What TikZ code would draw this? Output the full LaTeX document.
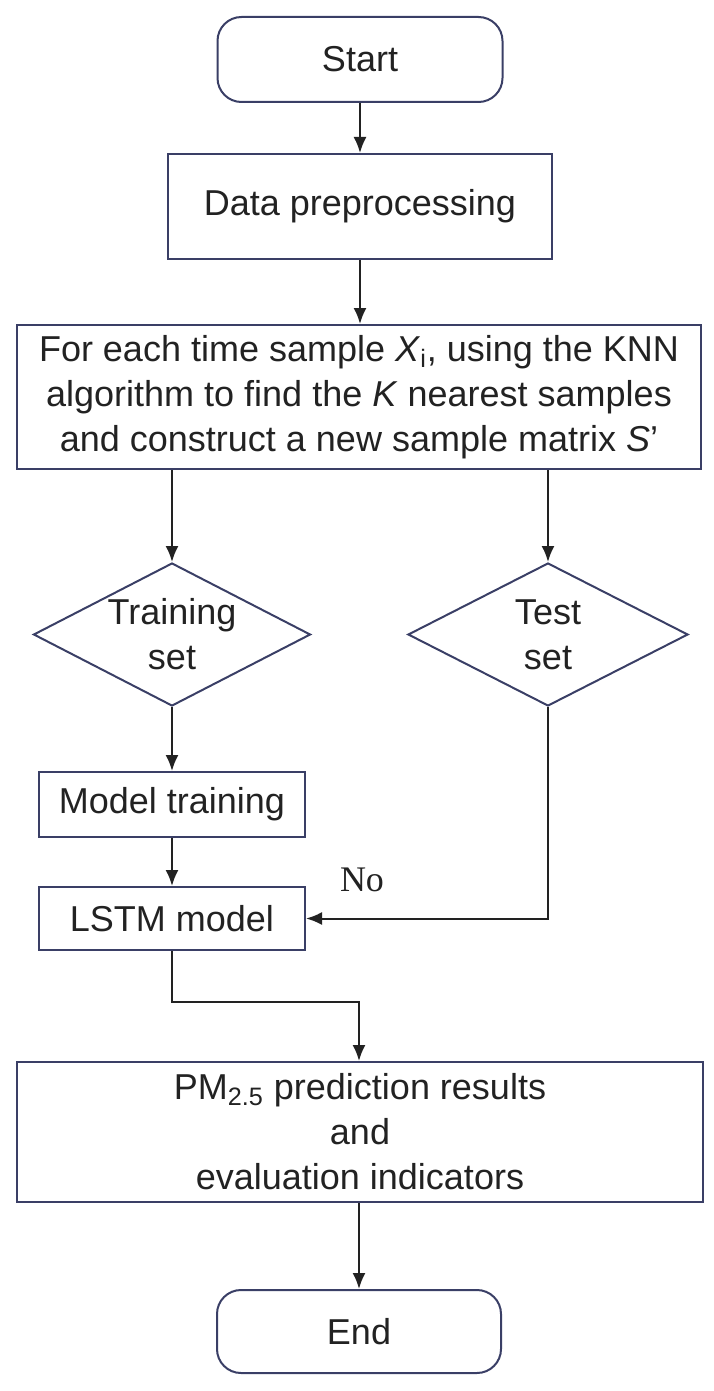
\documentclass[tikz,border=0pt]{standalone}
\usepackage{fontspec}
\setmainfont{Liberation Sans}
\newfontfamily\serifno{Liberation Serif}
\usepackage{tikz}
\usetikzlibrary{arrows.meta,calc,positioning,shapes.geometric}
\definecolor{frame}{HTML}{3A3F66}
\definecolor{ink}{HTML}{222222}

\begin{document}
\begin{tikzpicture}[x=0.5pt,y=-0.5pt,font=\fontsize{18}{22.5}\selectfont,
  >={Latex[length=8pt,width=6.5pt]},
  every node/.style={text=ink},
  box/.style={draw=frame,line width=1pt,rectangle,inner sep=0pt,align=center},
  term/.style={box,rounded corners=12pt},
  choice/.style={draw=frame,line width=1pt,diamond,inner sep=0pt},
  flow/.style={->,line width=1pt,ink}]
  \useasboundingbox (0,0) rectangle (713,1391);
  \node[term,minimum width=142.5pt,minimum height=42.5pt] (start) at (360,59.5) {Start};
  \node[box,minimum width=192pt,minimum height=52.5pt] (prep) at (360,206.5) {Data preprocessing};
  \node[box,minimum width=342pt,minimum height=72pt] (knn) at (359,397)
    {For each time sample \textit{X}\textsubscript{i}, using the KNN\\
     algorithm to find the \textit{K} nearest samples\\
     and construct a new sample matrix \textit{S}'};
  \node[choice,minimum width=138.5pt,minimum height=71.5pt,
    label={[align=center,text=ink]center:Training\\set}] (train) at (172,634.5) {};
  \node[choice,minimum width=140pt,minimum height=71.5pt,
    label={[align=center,text=ink]center:Test\\set}] (test) at (548,634.5) {};
  \node[box,minimum width=133pt,minimum height=32.5pt] (mtrain) at (172,804.5) {Model training};
  \node[box,minimum width=133pt,minimum height=31.5pt] (lstm) at (172,918.5) {LSTM model};
  \node[box,minimum width=343pt,minimum height=70pt] (pm) at (360,1132)
    {PM\textsubscript{2.5} prediction results\\and\\evaluation indicators};
  \node[term,minimum width=142pt,minimum height=41.5pt] (end) at (359,1331.5) {End};
  \node[font=\serifno\fontsize{18}{18}\selectfont] (no) at (362,880) {No};

  % connectors
  \draw[flow] (start) -- (prep);
  \draw[flow] (prep.south) -- (knn.north -| prep.south);
  \draw[flow] (knn.south -| train.north) -- (train.north);
  \draw[flow] (knn.south -| test.north) -- (test.north);
  \draw[flow] (train.south) -- (mtrain.north);
  \draw[flow] (mtrain) -- (lstm);
  \draw[flow] (test.south) |- (lstm.east);
  \draw[flow] (lstm.south) -- ++(0,51) -| (pm.north -| end.north);
  \draw[flow] (pm.south -| end.north) -- (end.north);
\end{tikzpicture}
\end{document}
